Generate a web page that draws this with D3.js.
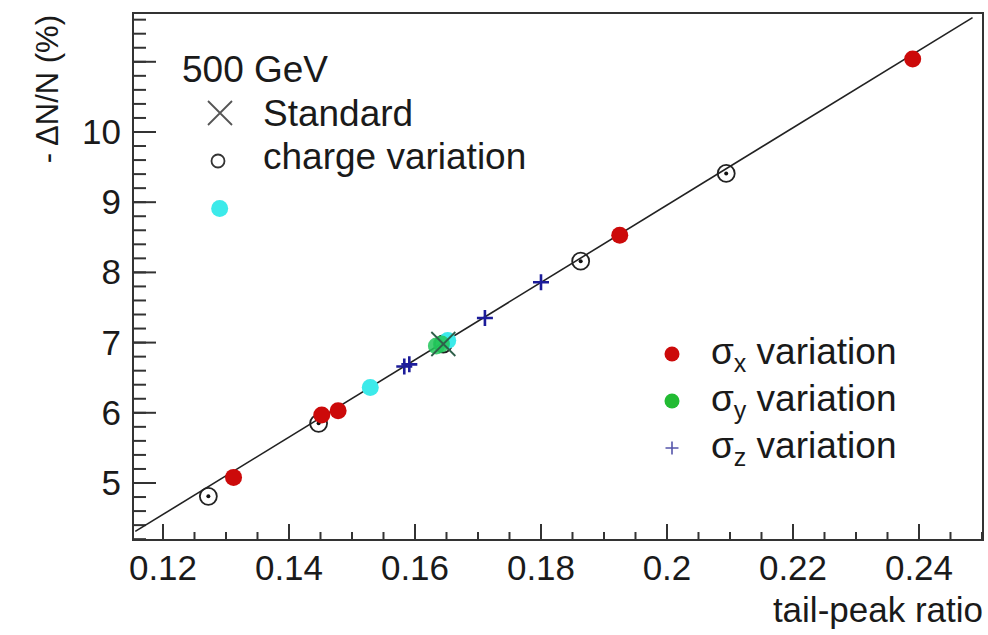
<!DOCTYPE html>
<html>
<head>
<meta charset="utf-8">
<script src="https://cdn.jsdelivr.net/npm/d3@7"></script>
<style>
  html, body { margin: 0; padding: 0; background: #fff; }
  svg { display: block; font-family: "Liberation Sans", Arial, Helvetica, sans-serif; }
</style>
</head>
<body>
<svg width="988" height="635"></svg>
<script>
// ---- Data
const xMajorTicks = [0.12, 0.14, 0.16, 0.18, 0.20, 0.22, 0.24];
const xTickLabels = ['0.12', '0.14', '0.16', '0.18', '0.2', '0.22', '0.24'];
const yMajorTicks = [5, 6, 7, 8, 9, 10, 11];
const yTickLabels = ['5', '6', '7', '8', '9', '10', ''];

// fit line end points
const fitX = [0.1156, 0.2485];
const fitY = [4.31, 11.63];

// charge variation (open circles)
const chargeX = [0.1272, 0.1447, 0.1645, 0.1863, 0.2094];
const chargeY = [4.81, 5.85, 6.98, 8.16, 9.41];

// sigma_x variation (red)
const sigmaXx = [0.1312, 0.1452, 0.1478, 0.1925, 0.2390];
const sigmaXy = [5.08, 5.97, 6.03, 8.53, 11.04];

// unlabelled cyan points
const cyanX = [0.1290, 0.1529, 0.1652];
const cyanY = [8.91, 6.36, 7.03];

// sigma_y variation (green)
const sigmaYx = [0.1634, 0.1642];
const sigmaYy = [6.95, 6.98];

// sigma_z variation (blue crosses)
const sigmaZx = [0.1583, 0.1591, 0.1711, 0.1800];
const sigmaZy = [6.66, 6.69, 7.35, 7.86];

// standard point
const standardX = [0.1645];
const standardY = [6.98];

const svg = d3.select('svg');

const frame = { left: 133, right: 983, top: 13, bottom: 540 };

const x = d3.scaleLinear().domain([0.11524, 0.25016]).range([frame.left, frame.right]);
const y = d3.scaleLinear().domain([4.188, 11.695]).range([frame.bottom, frame.top]);

const zip = (a, b) => a.map((v, i) => [v, b[i]]);

// ---- Frame
svg.append('rect')
    .attr('x', frame.left).attr('y', frame.top)
    .attr('width', frame.right - frame.left).attr('height', frame.bottom - frame.top)
    .attr('fill', 'none').attr('stroke', '#333').attr('stroke-width', 2);

// ---- X axis ticks
const xMinor = d3.range(0.115, 0.2501, 0.005).filter(v => x(v) > frame.left + 1 && x(v) <= frame.right);
const xAxis = svg.append('g').attr('stroke', '#333');
xAxis.selectAll('line.minor').data(xMinor).join('line')
    .attr('class', 'minor')
    .attr('x1', d => x(d)).attr('x2', d => x(d))
    .attr('y1', frame.bottom).attr('y2', frame.bottom - 8)
    .attr('stroke-width', 2);
xAxis.selectAll('line.major').data(xMajorTicks).join('line')
    .attr('class', 'major')
    .attr('x1', d => x(d)).attr('x2', d => x(d))
    .attr('y1', frame.bottom).attr('y2', frame.bottom - 16)
    .attr('stroke-width', 2);

svg.append('g').selectAll('text').data(xMajorTicks).join('text')
    .attr('x', d => x(d)).attr('y', 580)
    .attr('text-anchor', 'middle')
    .attr('font-size', 35).attr('fill', '#1a1a1a')
    .text((d, i) => xTickLabels[i]);

// ---- Y axis ticks
const yMinor = d3.range(4.2, 11.69, 0.2);
const yAxis = svg.append('g').attr('stroke', '#333');
yAxis.selectAll('line.minor').data(yMinor).join('line')
    .attr('class', 'minor')
    .attr('y1', d => y(d)).attr('y2', d => y(d))
    .attr('x1', frame.left).attr('x2', frame.left + 13)
    .attr('stroke-width', 2);
yAxis.selectAll('line.major').data(yMajorTicks).join('line')
    .attr('class', 'major')
    .attr('y1', d => y(d)).attr('y2', d => y(d))
    .attr('x1', frame.left).attr('x2', frame.left + 23)
    .attr('stroke-width', 2);

svg.append('g').selectAll('text').data(yMajorTicks).join('text')
    .attr('x', 121).attr('y', d => y(d) + 12)
    .attr('text-anchor', 'end')
    .attr('font-size', 35).attr('fill', '#1a1a1a')
    .text((d, i) => yTickLabels[i]);

// ---- Axis titles
svg.append('text')
    .attr('x', frame.right).attr('y', 622)
    .attr('text-anchor', 'end')
    .attr('font-size', 35).attr('fill', '#1a1a1a')
    .text('tail-peak ratio');

svg.append('text')
    .attr('transform', 'translate(58,15) rotate(-90)')
    .attr('text-anchor', 'end')
    .attr('font-size', 31).attr('fill', '#1a1a1a')
    .text('- \u0394N/N (%)');

// ---- Fit line
svg.append('path')
    .datum(zip(fitX, fitY))
    .attr('d', d3.line().x(d => x(d[0])).y(d => y(d[1])))
    .attr('fill', 'none').attr('stroke', '#222').attr('stroke-width', 1.6);

const marks = svg.append('g');

// charge variation circles
const charge = marks.append('g').selectAll('g').data(zip(chargeX, chargeY)).join('g')
    .attr('transform', d => `translate(${x(d[0])},${y(d[1])})`);
charge.append('circle').attr('r', 8.5).attr('fill', 'none').attr('stroke', '#222').attr('stroke-width', 1.8);
charge.append('circle').attr('r', 2).attr('fill', '#111');

// sigma_x red dots
marks.append('g').selectAll('circle').data(zip(sigmaXx, sigmaXy)).join('circle')
    .attr('cx', d => x(d[0])).attr('cy', d => y(d[1]))
    .attr('r', 8.5).attr('fill', '#cc0a0a');

// cyan dots
marks.append('g').selectAll('circle').data(zip(cyanX, cyanY)).join('circle')
    .attr('cx', d => x(d[0])).attr('cy', d => y(d[1]))
    .attr('r', 8.5).attr('fill', '#3ceaea');

// sigma_y green dots
marks.append('g').selectAll('circle').data(zip(sigmaYx, sigmaYy)).join('circle')
    .attr('cx', d => x(d[0])).attr('cy', d => y(d[1]))
    .attr('r', 8.5).attr('fill', '#22c55a').attr('fill-opacity', 0.85);

// sigma_z blue crosses
const plus = (s) => `M${-s},0H${s}M0,${-s}V${s}`;
marks.append('g').selectAll('path').data(zip(sigmaZx, sigmaZy)).join('path')
    .attr('transform', d => `translate(${x(d[0])},${y(d[1])})`)
    .attr('d', plus(8))
    .attr('stroke', '#1c1c9a').attr('stroke-width', 2.6).attr('fill', 'none');

// standard X
const cross = (s) => `M${-s},${-s}L${s},${s}M${-s},${s}L${s},${-s}`;
marks.append('g').selectAll('path').data(zip(standardX, standardY)).join('path')
    .attr('transform', d => `translate(${x(d[0])},${y(d[1])})`)
    .attr('d', cross(12))
    .attr('stroke', '#2f5f4a').attr('stroke-width', 1.8).attr('fill', 'none');

// ---- Legend 1
const leg1 = svg.append('g').attr('font-size', 37).attr('fill', '#1a1a1a');
leg1.append('text').attr('x', 182).attr('y', 82).text('500 GeV');
leg1.append('path').attr('transform', 'translate(220,113)').attr('d', cross(12))
    .attr('stroke', '#555').attr('stroke-width', 1.8).attr('fill', 'none');
leg1.append('text').attr('x', 263).attr('y', 126).text('Standard');
leg1.append('circle').attr('cx', 218).attr('cy', 161).attr('r', 6.5)
    .attr('fill', 'none').attr('stroke', '#333').attr('stroke-width', 1.8);
leg1.append('text').attr('x', 263).attr('y', 169).text('charge variation');

// ---- Legend 2
const leg2 = svg.append('g').attr('font-size', 37).attr('fill', '#1a1a1a');
const leg2Rows = [
    { y: 354, sub: 'x' },
    { y: 401, sub: 'y' },
    { y: 448, sub: 'z' }
];
leg2.append('circle').attr('cx', 672).attr('cy', leg2Rows[0].y).attr('r', 7.5).attr('fill', '#cc0a0a');
leg2.append('circle').attr('cx', 672).attr('cy', leg2Rows[1].y).attr('r', 7.5).attr('fill', '#22bb33');
leg2.append('path').attr('transform', `translate(672,${leg2Rows[2].y})`).attr('d', plus(6.5))
    .attr('stroke', '#5555aa').attr('stroke-width', 1.6).attr('fill', 'none');
leg2Rows.forEach(r => {
    const t = leg2.append('text').attr('x', 711).attr('y', r.y + 10);
    t.append('tspan').text('\u03c3');
    t.append('tspan').attr('font-size', 25).attr('dy', 8).text(r.sub);
    t.append('tspan').attr('dy', -8).text(' variation');
});
</script>
</body>
</html>
